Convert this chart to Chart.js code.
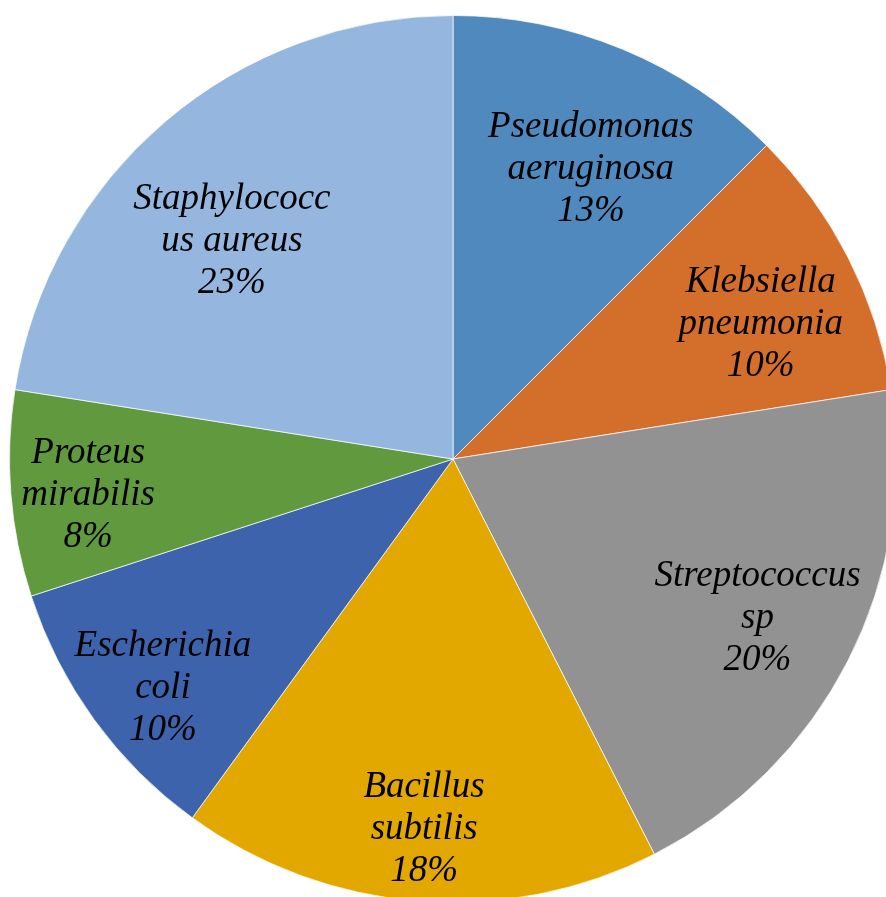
<!DOCTYPE html>
<html>
<head>
<meta charset="utf-8">
<script src="https://cdn.jsdelivr.net/npm/chart.js@4/dist/chart.umd.min.js"></script>
<style>
  html, body { margin: 0; padding: 0; background: #fff; overflow: hidden; width: 886px; height: 897px; }
  #wrap { position: absolute; left: 9px; top: 15px; width: 888px; height: 888px; }
</style>
</head>
<body>
<div id="wrap"><canvas id="pie"></canvas></div>
<script>
// ─── data ────────────────────────────────────────────────────────────────────
const labels = [
  ['Pseudomonas', 'aeruginosa'],
  ['Klebsiella', 'pneumonia'],
  ['Streptococcus', 'sp'],
  ['Bacillus', 'subtilis'],
  ['Escherichia', 'coli'],
  ['Proteus', 'mirabilis'],
  ['Staphylococc', 'us aureus'],
];
const counts = [5, 4, 8, 7, 4, 3, 9];
const colors = ['#4F89BE', '#D46E2B', '#929292', '#E2A800', '#3D63AC', '#61993F', '#95B7DF'];

// label placement: angle shift (deg) from slice middle, radial fraction
const labelPos = [
  { a: 2.7, f: 0.73 }, { a: 2.9, f: 0.76 }, { a: 0.2, f: 0.772 }, { a: 0, f: 0.83 },
  { a: -2, f: 0.83 }, { a: -0.7, f: 0.826 }, { a: -4.5, f: 0.705 },
];

const sliceLabels = {
  id: 'sliceLabels',
  afterDatasetsDraw(chart) {
    const { ctx } = chart;
    const total = counts.reduce((s, v) => s + v, 0);
    const meta = chart.getDatasetMeta(0);
    ctx.save();
    ctx.font = 'italic 37px "Liberation Serif", "Times New Roman", serif';
    ctx.fillStyle = '#000';
    ctx.textAlign = 'center';
    ctx.textBaseline = 'middle';
    meta.data.forEach((arc, i) => {
      const p = arc.getProps(['x', 'y', 'startAngle', 'endAngle', 'outerRadius'], true);
      const mid = (p.startAngle + p.endAngle) / 2 + labelPos[i].a * Math.PI / 180;
      const r = p.outerRadius * labelPos[i].f;
      const cx = p.x + Math.cos(mid) * r;
      const cy = p.y + Math.sin(mid) * r + 3;
      const lines = [...labels[i], Math.round(counts[i] / total * 100) + '%'];
      const lh = 42;
      lines.forEach((t, j) => {
        ctx.fillText(t, cx, cy + (j - (lines.length - 1) / 2) * lh);
      });
    });
    ctx.restore();
  },
};

new Chart(document.getElementById('pie'), {
  type: 'pie',
  data: {
    labels: labels.map(l => l.join(' ')),
    datasets: [{
      data: counts,
      backgroundColor: colors,
      borderColor: 'rgba(255,255,255,0.7)',
      borderWidth: 1,
      hoverOffset: 0,
    }],
  },
  options: {
    responsive: true, maintainAspectRatio: false, animation: false,
    layout: { padding: 0 },
    plugins: { legend: { display: false }, tooltip: { enabled: false } },
  },
  plugins: [sliceLabels],
});
</script>
</body>
</html>
